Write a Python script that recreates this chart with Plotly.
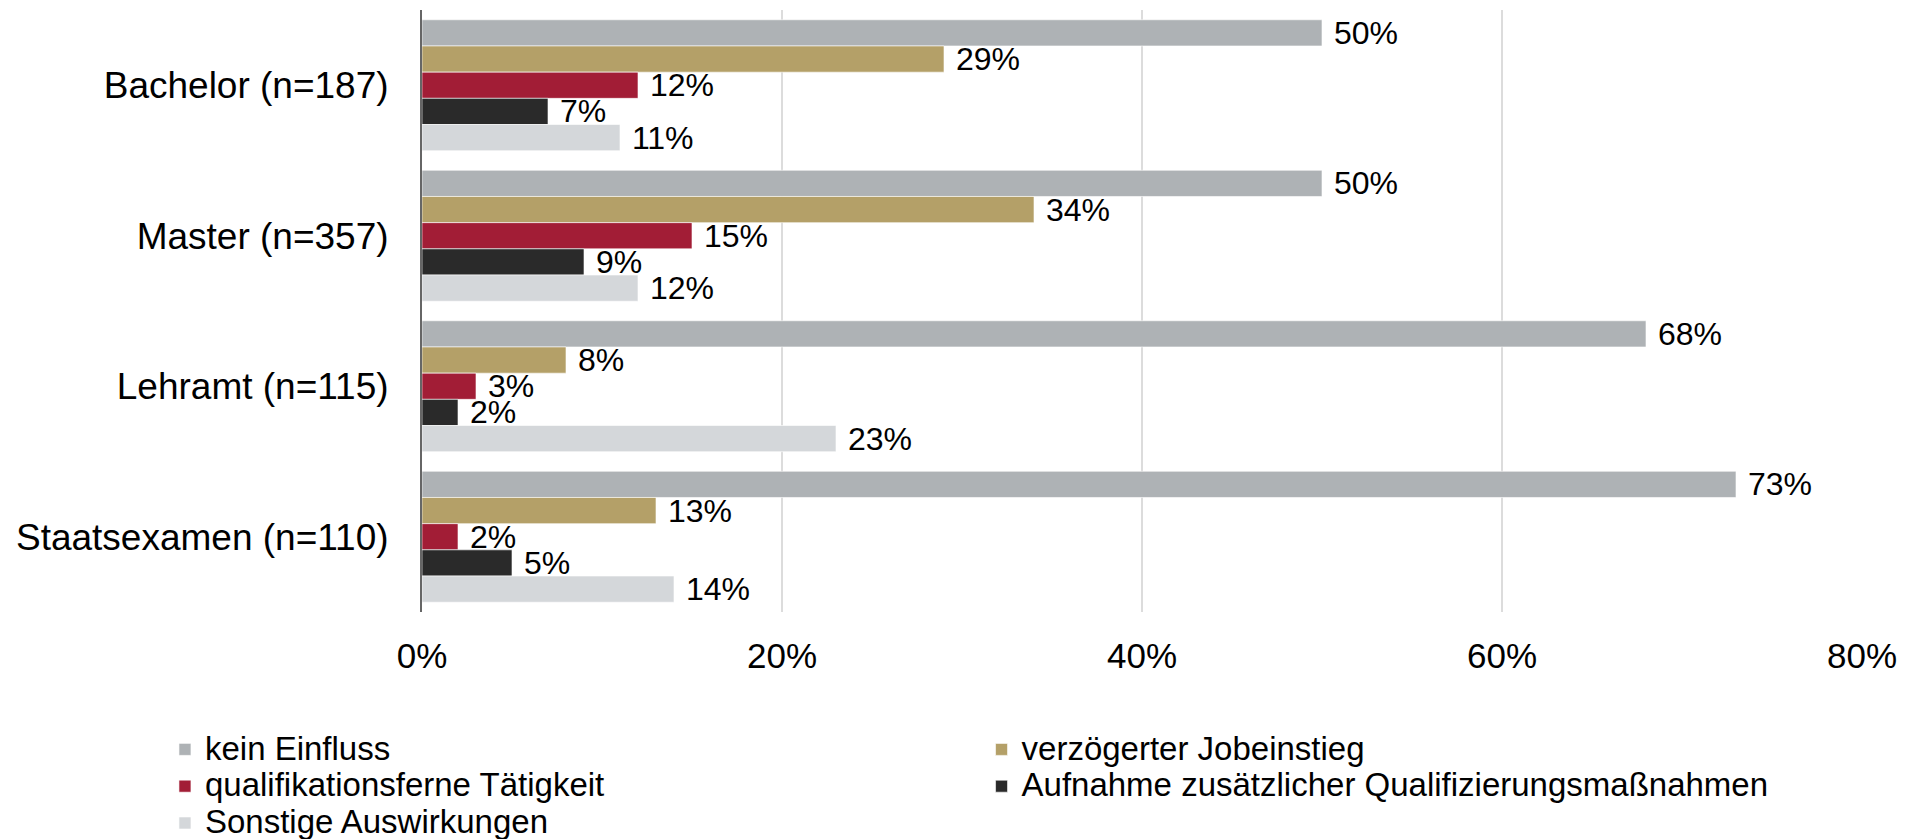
import plotly.graph_objects as go

categories = ["Bachelor (n=187)", "Master (n=357)", "Lehramt (n=115)", "Staatsexamen (n=110)"]
series_names = [
    "kein Einfluss",
    "verzögerter Jobeinstieg",
    "qualifikationsferne Tätigkeit",
    "Aufnahme zusätzlicher Qualifizierungsmaßnahmen",
    "Sonstige Auswirkungen",
]
kein_einfluss = [50, 50, 68, 73]
verzoegerter_jobeinstieg = [29, 34, 8, 13]
qualifikationsferne = [12, 15, 3, 2]
zusaetzliche_qualifizierung = [7, 9, 2, 5]
sonstige = [11, 12, 23, 14]
x_ticks = [0, 20, 40, 60, 80]
x_tick_labels = ["0%", "20%", "40%", "60%", "80%"]

series_values = [kein_einfluss, verzoegerter_jobeinstieg, qualifikationsferne,
                 zusaetzliche_qualifizierung, sonstige]
colors = ["#AEB2B5", "#B4A068", "#A21D36", "#2A2A2A", "#D4D7DA"]
legend_ids = ["legend", "legend2", "legend", "legend2", "legend"]

FONT = "Liberation Sans, Arial, Helvetica, sans-serif"

fig = go.Figure()
for name, vals, col, lg in zip(series_names, series_values, colors, legend_ids):
    fig.add_trace(go.Bar(
        y=categories,
        x=vals,
        orientation="h",
        name='<span style="font-size:33px">' + name + "</span>",
        marker=dict(color=col, line=dict(color="white", width=0.6)),
        text=[f"{v}%" for v in vals],
        texttemplate="\u00a0%{text}",
        textposition="outside",
        textfont=dict(size=32, color="black", family=FONT),
        constraintext="none",
        cliponaxis=False,
        legend=lg,
        hoverinfo="x+name",
    ))

fig.update_layout(
    width=1907,
    height=839,
    margin=dict(l=422, r=45, t=10, b=227, autoexpand=False),
    paper_bgcolor="white",
    plot_bgcolor="white",
    font=dict(family=FONT, color="black"),
    barmode="group",
    bargap=0.13,
    bargroupgap=0,
    xaxis=dict(
        range=[0, 80],
        tickvals=x_ticks,
        ticktext=x_tick_labels,
        showgrid=True,
        gridcolor="#DCDCDC",
        gridwidth=1.5,
        zeroline=False,
        showline=False,
        ticks="",
        tickfont=dict(size=35, color="black"),
        ticklabelstandoff=20,
        automargin=False,
        fixedrange=True,
    ),
    yaxis=dict(
        categoryorder="array",
        categoryarray=categories,
        range=[3.5, -0.5],
        showgrid=False,
        zeroline=False,
        showline=True,
        linecolor="#666666",
        linewidth=2,
        ticks="",
        tickfont=dict(size=37, color="black"),
        ticklabelstandoff=24,
        automargin=False,
        fixedrange=True,
    ),
    legend=dict(
        xref="container", yref="container",
        x=0.0865, xanchor="left",
        y=0.1347, yanchor="top",
        orientation="v",
        font=dict(size=26, color="black"),
        bgcolor="rgba(0,0,0,0)",
        traceorder="normal",
        tracegroupgap=0,
    ),
    legend2=dict(
        xref="container", yref="container",
        x=0.5147, xanchor="left",
        y=0.1347, yanchor="top",
        orientation="v",
        font=dict(size=26, color="black"),
        bgcolor="rgba(0,0,0,0)",
        traceorder="normal",
        tracegroupgap=0,
    ),
    showlegend=True,
)

fig.write_html(
    "out.html",
    config={"displayModeBar": False},
    post_script="document.body.style.margin='0';document.body.style.overflow='hidden';",
)
